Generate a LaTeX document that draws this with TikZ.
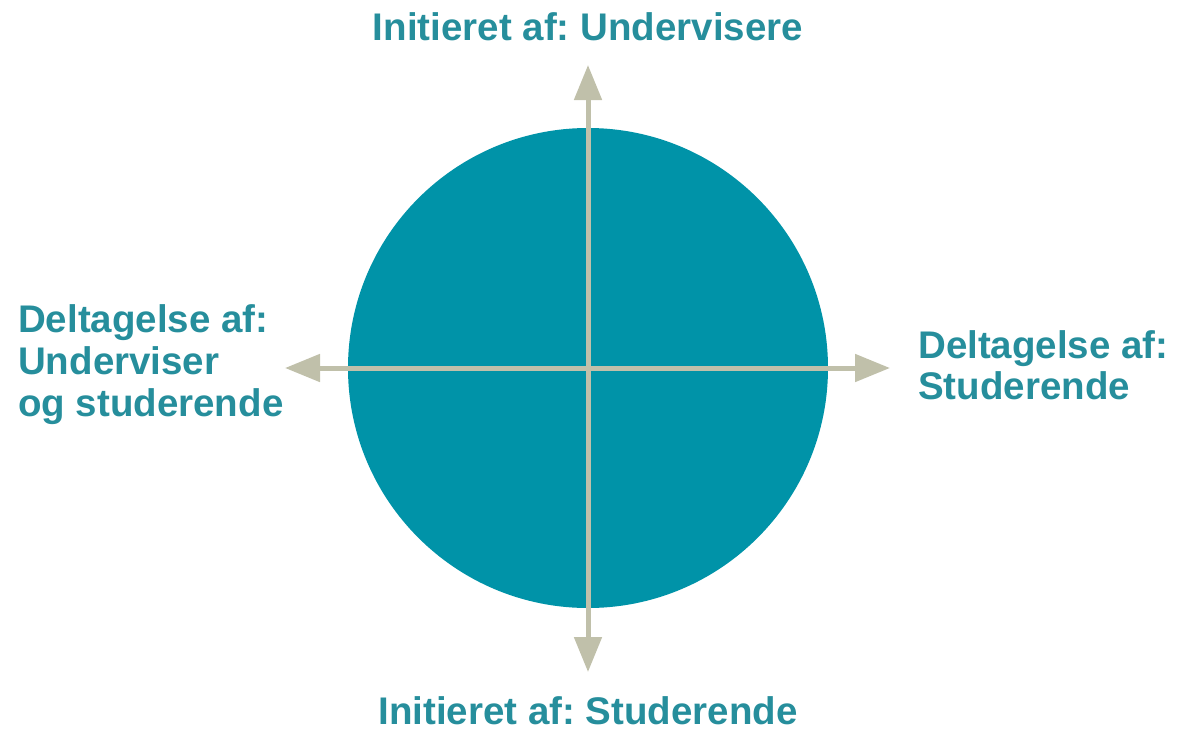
\documentclass[tikz,border=0pt]{standalone}
\usepackage{fontspec}
\setmainfont{Liberation Sans}
\usetikzlibrary{arrows.meta}
\frenchspacing
\definecolor{tealfill}{RGB}{0,147,168}
\definecolor{tealtext}{RGB}{38,142,156}
\definecolor{axiscol}{RGB}{192,192,170}
\tikzset{
  lbl/.style={inner sep=0pt, text=tealtext, font=\fontsize{38.5}{42}\selectfont\bfseries},
  axis/.style={draw=axiscol, line width=5pt, {Triangle[length=35pt,width=27pt]}-{Triangle[length=35pt,width=27pt]}}
}
\begin{document}
\begin{tikzpicture}[x=1pt,y=-1pt]
\useasboundingbox (0,0) rectangle (1184,732);
\node[circle, fill=tealfill, minimum size=480pt, inner sep=0pt] (c) at (588,368) {};
\coordinate (top) at (588,65);
\coordinate (bot) at (588,672);
\coordinate (lft) at (285,368);
\coordinate (rgt) at (890,368);
\draw[axis] (bot) -- (top);
\draw[axis] (lft) -- (rgt);
\node[lbl, anchor=base] (tt) at (588,40) {Initieret af: Undervisere};
\node[lbl, anchor=base] (bt) at (588,724) {Initieret af: Studerende};
\node[lbl, anchor=base west] (l1) at (18,332) {Deltagelse af:};
\node[lbl, anchor=base west] (l2) at (18,374) {Underviser};
\node[lbl, anchor=base west] (l3) at (18,416) {og studerende};
\node[lbl, anchor=base west] (r1) at (918,358) {Deltagelse af:};
\node[lbl, anchor=base west] (r2) at (918,399) {Studerende};
\end{tikzpicture}
\end{document}
